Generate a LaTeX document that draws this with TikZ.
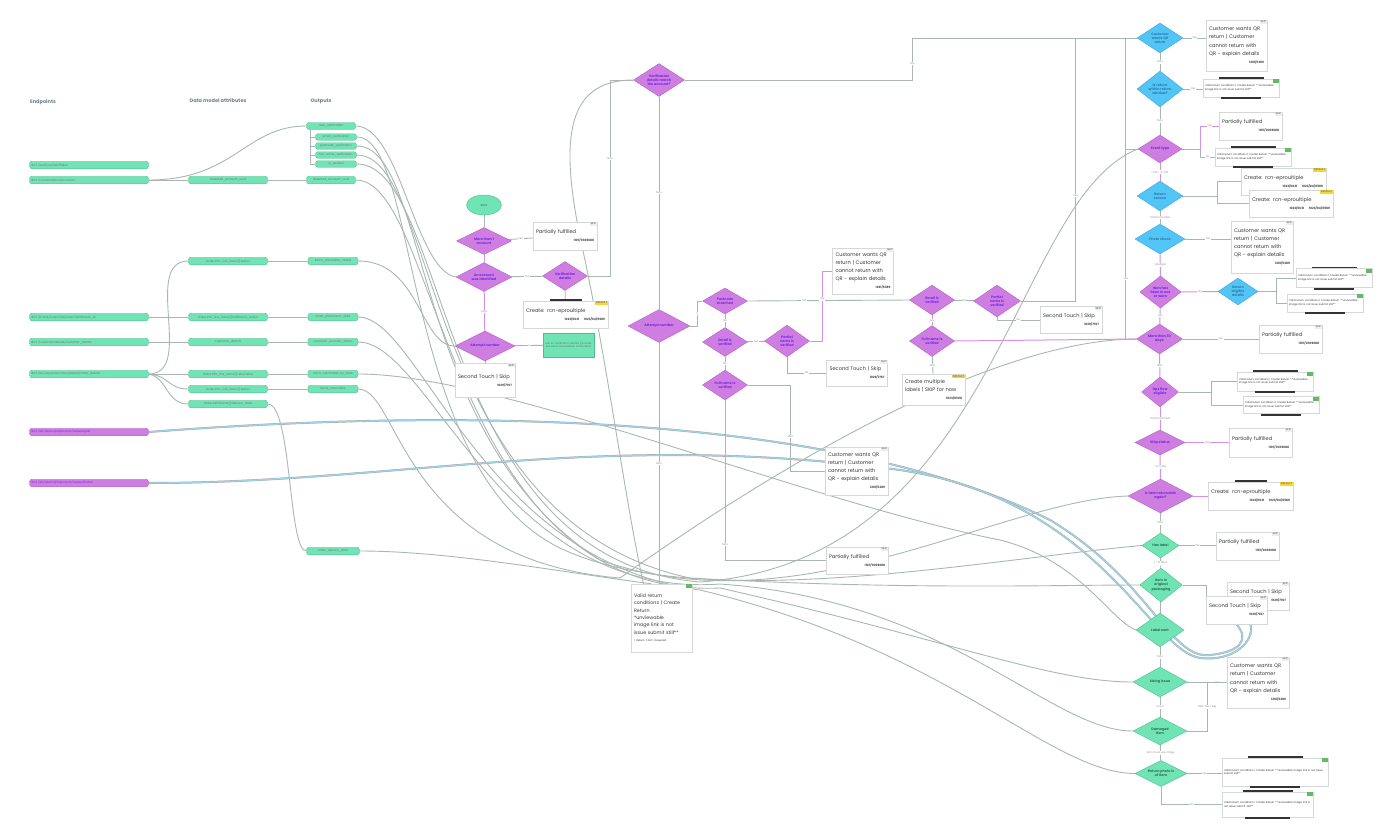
\documentclass[tikz,border=0pt]{standalone}
\usepackage{fontspec}
\setmainfont{Poppins}
\usetikzlibrary{positioning, shapes.geometric, backgrounds}
\definecolor{mint}{RGB}{112,228,180}
\definecolor{mintEdge}{RGB}{80,190,140}
\definecolor{orchid}{RGB}{206,126,224}
\definecolor{orchidEdge}{RGB}{178,98,204}
\definecolor{violetText}{RGB}{122,38,232}
\definecolor{sky}{RGB}{82,196,246}
\definecolor{skyEdge}{RGB}{60,168,222}
\definecolor{wire}{RGB}{170,182,176}
\definecolor{wireBlue}{RGB}{160,210,230}
\definecolor{tagYellow}{RGB}{246,214,54}
\definecolor{tagGreen}{RGB}{96,188,98}
\definecolor{boxEdge}{RGB}{212,216,214}
\definecolor{headGray}{RGB}{110,130,138}
\hyphenpenalty=10000
\exhyphenpenalty=10000
\newcommand\boxref[1]{\\\mbox{}\hfill{\fontsize{3}{3.6}\selectfont\bfseries\color{black!75}#1}}
\newcommand\qrtext{Customer wants QR\\return | Customer\\cannot return with\\QR - explain details}
\newcommand\validtext{Valid return conditions | Create Return **unviewable image link is not issue submit still**}

\begin{document}
\begin{tikzpicture}[
    x=1pt, y=-1pt,
    font=\fontsize{2.9}{3.5}\selectfont,
    wh/.style 2 args={minimum width=#1pt, minimum height=#2pt},
    hd/.style={text=headGray, font=\fontsize{5}{6}\selectfont\bfseries},
    ep/.style={draw=mintEdge, fill=mint, rounded corners=2.5pt, text=black!55,
               inner xsep=2pt, inner ysep=0pt, minimum height=7.5pt},
    epl/.style={ep, text width=115pt, align=left},
    pep/.style={epl, draw=orchidEdge, fill=orchid, text=violetText},
    dia/.style={diamond, aspect=2, draw=orchidEdge, fill=orchid, text=violetText,
                align=center, inner sep=0pt, font=\fontsize{3.4}{4.1}\selectfont\bfseries},
    bdia/.style={dia, draw=skyEdge, fill=sky, text=skyEdge!75!black},
    gdia/.style={dia, draw=mintEdge, fill=mint, text=mintEdge!60!black},
    bx/.style={draw=boxEdge, fill=white, align=left, inner sep=3pt, text width=#1,
               font=\fontsize{5.1}{8.2}\selectfont, text=black!78},
    sbx/.style={bx=#1, font=\fontsize{2.6}{3.6}\selectfont, inner sep=2pt},
    tg/.style={anchor=north east, inner sep=0.8pt, fill=black!7, text=black!65,
               font=\fontsize{2.8}{3.2}\selectfont},
    ytg/.style={tg, fill=tagYellow},
    gtg/.style={tg, fill=tagGreen, minimum width=6pt, minimum height=4pt},
    bar/.style={fill=black!80, inner sep=0pt, minimum height=1.6pt},
    w/.style={draw=wire, line width=0.9pt},
    pw/.style={draw=orchid!85, line width=1pt},
    bw/.style={draw=black!35, double=wireBlue, double distance=1.3pt, line width=0.35pt},
    lb/.style={fill=white, inner sep=0.6pt, text=black!45, font=\fontsize{2.6}{3}\selectfont},
  ]
  \useasboundingbox (0,0) rectangle (1379,833);

  % column heads
  \node[hd] (hEndpoints) at (43,102) {Endpoints};
  \node[hd] (hAttributes) at (218,101) {Data model attributes};
  \node[hd] (hOutputs) at (321,101) {Outputs};

  % endpoints
  \node[epl] (epToken) at (89,165) {BOT /auth/cached/token};
  \node[epl] (epAccounts) at (89,180) {BOT /conversations/accounts};
  \node[epl] (epFulfil) at (89,317) {BOT /brand/orders/list/order/fulfillments\_id};
  \node[epl] (epCustomer) at (89,342) {BOT /customer/details/customer\_details};
  \node[epl] (epOrder) at (89,374) {BOT /ab/requests/orders/details/order\_details};
  \node[pep] (epLabelPdf) at (89,432) {BOT /ab/returns/shipments/request/pdf};
  \node[pep] (epLabelShip) at (89,483) {BOT /ab/returns/shipments/request/label};

  % data model attributes
  \node[ep, minimum width=79pt] (atAccount) at (228,180) {Detected\_account\_uuid};
  \node[ep, minimum width=79pt] (atItemStatus) at (228,261) {Order.info\_line\_items[].status};
  \node[ep, minimum width=79pt] (atFulfil) at (228,317) {Order.info\_line\_items[].fulfillment\_status};
  \node[ep, minimum width=79pt] (atCustomer) at (228,342) {Customer\_details};
  \node[ep, minimum width=79pt] (atReturnable) at (228,374) {Order.info\_line\_items[].returnable};
  \node[ep, minimum width=79pt] (atStatus) at (228,389) {Order.info\_line\_items[].status};
  \node[ep, minimum width=79pt] (atDelivery) at (228,404) {Order.fulfillments[].delivery\_date};

  % outputs
  \node[ep, minimum width=49pt, minimum height=7pt] (ouUser) at (331,126) {user\_verification};
  \node[ep, minimum width=41pt, minimum height=6.5pt] (ouEmail) at (336,137) {email\_verification};
  \node[ep, minimum width=41pt, minimum height=6.5pt] (ouPostcode) at (336,146) {postcode\_verification};
  \node[ep, minimum width=41pt, minimum height=6.5pt] (ouFullName) at (336,155) {full\_name\_verification};
  \node[ep, minimum width=41pt, minimum height=6.5pt] (ouVerified) at (336,164) {is\_verified};
  \node[ep, minimum width=49pt] (ouAccount) at (331,180) {detected\_account\_uuid};
  \node[ep, minimum width=50pt] (ouItems) at (333,261) {items\_returnable\_status};
  \node[ep, minimum width=50pt] (ouPlaced) at (333,317) {order\_placement\_date};
  \node[ep, minimum width=50pt] (ouCustomer) at (333,342) {customer\_account\_status};
  \node[ep, minimum width=50pt] (ouReturnBy) at (333,374) {items\_returnable\_by\_date};
  \node[ep, minimum width=50pt] (ouReturnable) at (333,389) {items\_returnable};
  \node[ep, minimum width=53pt] (ouDelivery) at (333,551) {order\_delivery\_date};

  % account checks
  \node[ellipse, draw=mintEdge, fill=mint, wh={35}{20}, text=mintEdge!60!black] (start) at (484,205) {Start};
  \node[dia, wh={55}{27}] (dMore) at (484,241) {More than 1\\account};
  \node[dia, wh={56}{29}] (dAcc) at (484,277) {An account\\was identified};
  \node[dia, wh={60}{30}] (dAtt1) at (485,346) {Attempt number};
  \node[dia, wh={45}{29}] (dVer1) at (565,276) {Verification\\details};
  \node[bx=58pt, minimum height=28pt, label={[tg]north east:SKIP}] (bPart1) at (565,236)
    {Partially fulfilled\boxref{1107/0309288}};
  \node[bx=79pt, minimum height=27pt, label={[ytg]north east:DEFAULT},
        label={[bar, minimum width=32pt]north:{}}] (bCreate1) at (565.5,314.5)
    {Create: rcn-eproultiple\boxref{1023/0631 \quad 1023/04/0589}};
  \node[ep, rounded corners=0pt, wh={51}{24}, text width=47pt, align=center,
        font=\fontsize{2.6}{3.4}\selectfont] (bAsk) at (568.5,345)
    {Ask for verification details | provide self serve cancellation instructions};
  \node[bx=54pt, minimum height=34pt, below=2pt of dAtt1, label={[tg]north east:SKIP}] (bSec1)
    {Second Touch | Skip\boxref{1029/7767}};

  % verification
  \node[dia, wh={51}{33}] (dVerM) at (659,80) {Verification\\details match\\the account?};
  \node[dia, wh={62}{33}] (dAtt2) at (659,326) {Attempt number};
  \node[dia, wh={45}{26}] (dPost1) at (725,301) {Postcode\\matched};
  \node[dia, wh={45}{29}] (dEmail1) at (725,342) {Email is\\verified};
  \node[dia, wh={45}{30}] (dFull1) at (725,385) {Full name is\\verified};
  \node[dia, wh={45}{32}] (dPart1) at (787,341) {Partial\\name is\\verified};
  \node[dia, wh={45}{30}] (dEmail2) at (932,300) {Email is\\verified};
  \node[dia, wh={47}{32}] (dPart2) at (997,301) {Partial\\name is\\verified};
  \node[dia, wh={45}{31}] (dFull2) at (932,341) {Full name is\\verified};
  \node[bx=55pt, minimum height=46pt, label={[tg]north east:SKIP}] (bQR1) at (863,271)
    {\qrtext\boxref{1261/5389}};
  \node[bx=55pt, minimum height=26pt, label={[tg]north east:SKIP}] (bSec2) at (857,373)
    {Second Touch | Skip\boxref{1029/7767}};
  \node[bx=56pt, minimum height=27pt, label={[tg]north east:SKIP}] (bSec3) at (1071,320)
    {Second Touch | Skip\boxref{1029/7767}};
  \node[bx=57pt, minimum height=31pt, label={[ytg]north east:DEFAULT}] (bMulti) at (933.5,390)
    {Create multiple\\labels | SKIP for now\boxref{1023/0508}};
  \node[bx=57pt, minimum height=48pt, label={[tg]north east:SKIP}] (bQR2) at (856.5,471)
    {\qrtext\boxref{1261/5389}};
  \node[bx=56pt, minimum height=27pt, label={[tg]north east:SKIP}] (bPart2) at (857,560.5)
    {Partially fulfilled\boxref{1107/0309288}};
  \node[bx=55pt, minimum height=68pt, label={[gtg]north east:{}},
        font=\fontsize{4.8}{7.4}\selectfont] (bValid) at (661.5,618)
    {Valid return\\conditions | Create\\Return\\**unviewable\\image link is not\\issue submit still**\\
     {\fontsize{2.6}{3}\selectfont 1 Return Form Required}};

  % return rules
  \node[bdia, wh={46}{30}] (r1) at (1160,38) {Customer\\wants QR\\return};
  \node[bdia, wh={46}{36}] (r2) at (1160,89) {Is return\\within return\\window?};
  \node[dia, wh={44}{28}] (r3) at (1160,149) {Event type};
  \node[bdia, wh={46}{30}] (r4) at (1160,196) {Return\\reason};
  \node[bdia, wh={50}{30}] (r5) at (1160,239) {Photo check};
  \node[dia, wh={40}{32}] (r6) at (1160.5,292) {Item has\\been in use\\or worn};
  \node[bdia, wh={40}{27}] (r6b) at (1238,291.5) {Return\\eligible\\details};
  \node[dia, wh={46}{30}] (r7) at (1159.5,339) {More than 30\\days};
  \node[dia, wh={37}{30}] (r8) at (1160,392) {Ops flow\\eligible};
  \node[dia, wh={50}{25}] (r9) at (1160,442.5) {Ship status};
  \node[dia, wh={65}{34}] (r10) at (1160.5,496) {Is item returnable\\again?};
  \node[gdia, wh={37}{25}] (r11) at (1160.5,545.5) {Has label};
  \node[gdia, wh={40}{34}] (r12) at (1161,585) {Item in\\original\\packaging};
  \node[gdia, wh={48}{34}] (r13) at (1160,630) {Label sent};
  \node[gdia, wh={54}{30}] (r14) at (1160,682) {Sizing issue};
  \node[gdia, wh={54}{28}] (r15) at (1160,731) {Damaged\\item};
  \node[gdia, wh={52}{26}] (r16) at (1161,773.5) {Return photo is\\of item};

  \node[bx=55pt, minimum height=51pt, label={[tg]north east:SKIP}] (q1) at (1236.5,45.5)
    {\qrtext\boxref{1261/5389}};
  \node[sbx=72pt, minimum height=18pt, label={[gtg]north east:{}},
        label={[bar, minimum width=45pt]north:{}}, label={[bar, minimum width=40pt]south:{}}] (s1) at (1241,88)
    {\validtext};
  \node[bx=57pt, minimum height=28pt, label={[tg]north east:SKIP}] (p1) at (1250.5,126)
    {Partially fulfilled\boxref{1107/0309288}};
  \node[sbx=72pt, minimum height=18pt, label={[gtg]north east:{}},
        label={[bar, minimum width=45pt]north:{}}, label={[bar, minimum width=40pt]south:{}}] (s2) at (1253,157)
    {\validtext};
  \node[bx=79pt, minimum height=27pt, label={[ytg]north east:DEFAULT}] (c1) at (1283.5,181.5)
    {Create: rcn-eproultiple\boxref{1023/0631 \quad 1023/04/0589}};
  \node[bx=78pt, minimum height=27pt, label={[ytg]north east:DEFAULT}] (c2) at (1291,203.5)
    {Create: rcn-eproultiple\boxref{1023/0631 \quad 1023/04/0589}};
  \node[bx=56pt, minimum height=52pt, label={[tg]north east:SKIP}] (q2) at (1262,247)
    {\qrtext\boxref{1261/5389}};
  \node[sbx=72pt, minimum height=19pt, label={[gtg]north east:{}},
        label={[bar, minimum width=45pt]north:{}}, label={[bar, minimum width=40pt]south:{}}] (s3) at (1334,278)
    {\validtext};
  \node[sbx=72pt, minimum height=18pt, label={[gtg]north east:{}},
        label={[bar, minimum width=40pt]south:{}}] (s4) at (1325,303)
    {\validtext};
  \node[bx=57pt, minimum height=28pt, label={[tg]north east:SKIP}] (p2) at (1290.5,339)
    {Partially fulfilled\boxref{1107/0309288}};
  \node[sbx=72pt, minimum height=19pt, label={[gtg]north east:{}},
        label={[bar, minimum width=45pt]north:{}}, label={[bar, minimum width=40pt]south:{}}] (s5) at (1275,381.5)
    {\validtext};
  \node[sbx=72pt, minimum height=17pt, label={[gtg]north east:{}},
        label={[bar, minimum width=40pt]south:{}}] (s6) at (1281,405)
    {\validtext};
  \node[bx=57pt, minimum height=29pt, label={[tg]north east:SKIP}] (p3) at (1260.5,442.5)
    {Partially fulfilled\boxref{1107/0309288}};
  \node[bx=79pt, minimum height=28pt, label={[ytg]north east:DEFAULT},
        label={[bar, minimum width=32pt]north:{}}] (c3) at (1250.5,496)
    {Create: rcn-eproultiple\boxref{1023/0631 \quad 1023/04/0589}};
  \node[bx=57pt, minimum height=28pt, label={[tg]north east:SKIP}] (p4) at (1247.5,546)
    {Partially fulfilled\boxref{1107/0309288}};
  \node[bx=56pt, minimum height=28pt, label={[tg]north east:SKIP}] (t1) at (1258,596)
    {Second Touch | Skip\boxref{1029/7767}};
  \node[bx=55pt, minimum height=28pt, label={[tg]north east:SKIP}] (t2) at (1236.5,610)
    {Second Touch | Skip\boxref{1029/7767}};
  \node[bx=56pt, minimum height=51pt, label={[tg]north east:SKIP}] (q3) at (1258,682.5)
    {\qrtext\boxref{1261/5389}};
  \node[sbx=102pt, minimum height=28pt, label={[gtg]north east:{}},
        label={[bar, minimum width=55pt]north:{}}, label={[bar, minimum width=50pt]south:{}}] (s7) at (1275,772)
    {\validtext};
  \node[sbx=87pt, minimum height=25pt, label={[gtg]north east:{}},
        label={[bar, minimum width=50pt]north:{}}, label={[bar, minimum width=45pt]south:{}}] (s8) at (1267.5,804.5)
    {\validtext};

  \begin{scope}[on background layer]
    % endpoints -> attributes -> outputs
    \draw[w] (epAccounts) -- (atAccount);
    \draw[w] (atAccount) -- (ouAccount);
    \draw[w] (epAccounts.east) .. controls (235,180) and (245,126) .. (ouUser.west);
    \draw[w] ([xshift=4pt]ouUser.south west) |- (ouEmail.west);
    \draw[w] ([xshift=4pt]ouUser.south west) |- (ouPostcode.west);
    \draw[w] ([xshift=4pt]ouUser.south west) |- (ouFullName.west);
    \draw[w] ([xshift=4pt]ouUser.south west) |- (ouVerified.west);
    \draw[w] (epFulfil) -- (atFulfil);
    \draw[w] (atFulfil) -- (ouPlaced);
    \draw[w] (epCustomer) -- (atCustomer);
    \draw[w] (atCustomer) -- (ouCustomer);
    \draw[w] (epOrder) -- (atReturnable);
    \draw[w] (atReturnable) -- (ouReturnBy);
    \draw[w] (epOrder.east) to[out=0, in=180] (atItemStatus.west);
    \draw[w] (epOrder.east) .. controls (170,376) and (168,389) .. (atStatus.west);
    \draw[w] (epOrder.east) .. controls (168,378) and (166,404) .. (atDelivery.west);
    \draw[w] (atItemStatus) -- (ouItems);
    \draw[w] (atStatus) -- (ouReturnable);
    \draw[w] (atDelivery.east) .. controls (292,404) and (288,551) .. (ouDelivery.west);

    % outputs -> rules
    \draw[w] (ouUser.east) .. controls (400,126) and (415,270) .. (dAcc.west);
    \draw[w] (ouItems.east) .. controls (420,261) and (420,346) .. (dAtt1.west);
    \draw[w] (ouEmail.east) .. controls (420,137) and (400,470) .. (560,548) .. controls (700,615) and (980,560) .. (r11.west);
    \draw[w] (ouPostcode.east) .. controls (430,146) and (410,440) .. (600,560) .. controls (800,630) and (1000,500) .. (r10.west);
    \draw[w] (ouFullName.east) .. controls (440,155) and (420,520) .. (690,578) .. controls (900,590) and (1050,585) .. (r12.west);
    \draw[w] (ouVerified.east) .. controls (450,164) and (435,560) .. (700,582) .. controls (1000,560) and (1010,200) .. (r3.west);
    \draw[w] (ouAccount.east) .. controls (440,180) and (445,600) .. (720,588) .. controls (950,640) and (1050,682) .. (r14.west);
    \draw[w] (ouPlaced.east) .. controls (420,317) and (480,560) .. (700,590) .. controls (950,650) and (1050,773) .. (r16.west);
    \draw[w] (ouCustomer.east) .. controls (430,342) and (500,600) .. (720,584) .. controls (950,600) and (1050,731) .. (r15.west);
    \draw[w] (ouReturnBy.east) .. controls (500,374) and (800,500) .. (1000,540) .. controls (1080,560) and (1110,620) .. (r13.west);
    \draw[w] (ouReturnable.east) .. controls (400,389) and (400,560) .. (620,578) .. controls (800,450) and (1000,340) .. (r7.west);
    \draw[w] (ouDelivery.east) .. controls (450,551) and (560,572) .. ([xshift=-10pt]bValid.north);
    \draw[bw] (epLabelPdf.east) .. controls (500,405) and (850,420) .. (1050,520) .. controls (1150,580) and (1170,660) .. (1210,655) .. controls (1240,652) and (1250,640) .. (t2.south);
    \draw[bw] (epLabelShip.east) .. controls (400,483) and (600,430) .. (900,470) .. controls (1100,500) and (1150,650) .. (1200,658) .. controls (1235,662) and (1255,640) .. ([xshift=14pt]t2.south);

    % account flow
    \draw[w] (start) -- (dMore);
    \draw[w] (dMore) -- node[lb] {Yes} (bPart1);
    \draw[pw] (dMore) -- (dAcc);
    \draw[w] (dAcc) -- node[lb] {Yes} (dVer1);
    \draw[w] (dVer1) -- (bCreate1);
    \draw[w] (dVer1.east) -- ++(22.5,0) |- node[lb, pos=0.3] {NULL} (dVerM.west);
    \draw[pw] (dAcc) -- node[lb] {NULL} (dAtt1);
    \draw[w] (dAtt1) -- node[lb] {1} (bAsk);
    \draw[w] (dAtt1) -- (bSec1);
    \draw[w] (dVerM.west) .. controls (560,80) and (560,150) .. (585,260) .. controls (610,380) and (625,500) .. ([xshift=-18pt]bValid.north);

    % verification flow
    \draw[w] (dVerM) -- node[lb, pos=0.45] {NULL} (dAtt2);
    \draw[w] (dVerM.east) -- ++(227.5,0) |- node[lb, pos=0.2] {Yes} (r1.west);
    \draw[w] (dAtt2.east) -- ++(7,0) |- node[lb, pos=0.25] {2} (dPost1.west);
    \draw[w] (dAtt2.south) -- node[lb, pos=0.5] {NULL} (dAtt2.south |- bValid.north);
    \draw[w] (dPost1.east) -- node[lb, pos=0.35] {Yes} (dEmail2.west);
    \draw[pw] (dPost1) -- node[lb] {No} (dEmail1);
    \draw[pw] (dEmail1) -- node[lb] {No} (dFull1);
    \draw[w] (dEmail1) -- node[lb] {Yes} (dPart1);
    \draw[pw] (dPart1.east) -- ++(12.5,0) |- node[lb, pos=0.3] {Yes} (bQR1.west);
    \draw[pw] (dPart1.south) |- node[lb, pos=0.75] {No} (bSec2.west);
    \draw[w] (dFull1.east) -- ++(43,0) |- node[lb, pos=0.3] {NULL} (bQR2.west);
    \draw[w] (dFull1.south) |- node[lb, pos=0.45] {NULL} (bPart2.west);
    \draw[w] (dEmail2) -- node[lb] {No} (dPart2);
    \draw[pw] (dEmail2) -- node[lb] {Yes} (dFull2);
    \draw[w] (dPart2.east) -- ++(55,0) |- node[lb, pos=0.2] {Yes} (r1.west);
    \draw[w] (dPart2.south) |- node[lb, pos=0.75] {No} (bSec3.west);
    \draw[pw] (dFull2.east) -- (r7.west);
    \draw[w] (dFull2) -- node[lb] {NULL} (bMulti);

    % return rules
    \draw[w] ([xshift=-11pt]r1.west) |- (r3.west);
    \draw[w] ([xshift=-11pt]r1.west) |- node[lb, pos=0.4] {Yes} (r7.west);
    \draw[w] (r1) -- node[lb] {NULL} (r2);
    \draw[w] (r2) -- node[lb] {NULL} (r3);
    \draw[pw] (r3) -- node[lb] {1 Yes - 10 Y/N} (r4);
    \draw[w] (r4) -- node[lb] {1 Photo Number} (r5);
    \draw[pw] (r5) -- node[lb] {1 Multiple} (r6);
    \draw[pw] (r6) -- node[lb] {Yes} (r7);
    \draw[pw] (r7) -- node[lb] {NULL} (r8);
    \draw[pw] (r8) -- node[lb] {1 Photo Number} (r9);
    \draw[pw] (r9) -- node[lb] {1 to 1 ship} (r10);
    \draw[w] (r10) -- node[lb] {NULL} (r11);
    \draw[w] (r11) -- node[lb] {1 - 10 days} (r12);
    \draw[w] (r12) -- (r13);
    \draw[w] (r13) -- node[lb] {NULL} (r14);
    \draw[w] (r14) -- node[lb] {1 Hour} (r15);
    \draw[w] (r15) -- node[lb] {Item must use 2 tags} (r16);
    \draw[w] (r1.east) -- node[lb] {Yes} (q1.west |- r1.east);
    \draw[w] (r2.east) -- node[lb] {Yes} (s1.west |- r2.east);
    \draw[pw] (r3.east) -- ++(18,0) |- node[lb, pos=0.75] {Yes} (p1.west);
    \draw[w] (r3.east) -- ++(18,0) |- node[lb, pos=0.75] {No} (s2.west);
    \draw[w] (r4.east) -- ++(34,0) |- (c1.west);
    \draw[w] (r4.east) -- ++(34,0) |- (c2.west);
    \draw[w] (r5.east) -- node[lb] {Yes} (q2.west |- r5.east);
    \draw[pw] (r6) -- node[lb] {No} (r6b);
    \draw[w] (r6b.east) -- ++(18,0) |- (s3.west);
    \draw[w] (r6b.east) -- ++(18,0) |- (s4.west);
    \draw[w] (r7.east) -- node[lb] {Yes} (p2.west |- r7.east);
    \draw[pw] (r8.east) -- ++(32.5,0) |- (s5.west);
    \draw[w] (r8.east) -- ++(32.5,0) |- (s6.west);
    \draw[pw] (r9.east) -- node[lb] {Yes} (p3.west |- r9.east);
    \draw[pw] (r10.east) -- (c3.west |- r10.east);
    \draw[w] (r11.east) -- node[lb] {Yes} (p4.west |- r11.east);
    \draw[w] (r12.east) -- ++(24,0) |- (t1.west);
    \draw[w] (r14.east) -- ++(20,0) |- node[lb, pos=0.75] {Yes} (q3.west);
    \draw[w] (r15.east) -- ++(20,0) |- node[lb, pos=0.25] {Item has 1 tag} (q3.west);
    \draw[w] (r16.east) -- node[lb] {Yes} (s7.west |- r16.east);
    \draw[w] (r16.south) |- node[lb, pos=0.75] {No} (s8.west);
  \end{scope}
\end{tikzpicture}
\end{document}
